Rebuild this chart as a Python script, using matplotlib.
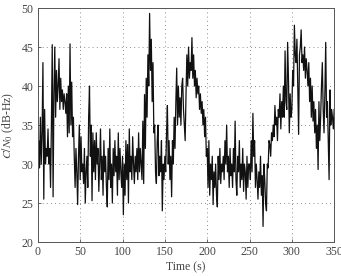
import matplotlib
matplotlib.use("Agg")
import matplotlib.pyplot as plt
import numpy as np

###### DATA (1 s steps) ######
cn0 = [
    31, 33, 29.5, 36, 30, 34, 43, 25.5, 37, 30,
    32, 31, 34.5, 30, 32, 27, 35, 45.3, 25.8, 39,
    45, 36, 42, 38, 40, 43.5, 37, 41, 38, 39.5,
    37, 39, 38, 36.5, 39, 33.5, 40, 34, 45.4, 35,
    40.5, 33.5, 36, 31, 27, 32, 29, 24.8, 31, 35,
    28, 33.5, 29, 30, 27.5, 32, 25, 29, 31, 27,
    36, 40, 31, 35, 25.3, 34, 29, 33, 28, 34,
    30, 32, 26.5, 30, 34.5, 28, 31, 26, 33, 29,
    31, 27, 24.5, 32, 28, 34.5, 27, 30, 25, 32,
    28.5, 33, 29, 31, 26, 34, 28, 32, 29, 27,
    31, 23.5, 30, 26, 33, 28, 32.5, 25, 34.5, 29,
    31, 28, 33.5, 30, 27.5, 31, 29, 32, 28, 34,
    29, 32, 30, 28, 35.5, 27.5, 38.9, 32, 41, 36,
    44, 40, 49.3, 42, 46, 38, 43, 34, 35, 29,
    27.5, 33, 35, 28.5, 31, 29, 33, 24, 30, 28,
    31, 29, 34, 37.5, 30, 33, 28, 31, 25.8, 33,
    30, 36, 32, 38, 42.3, 35, 40, 36, 38.5, 35,
    40, 41, 37, 35, 33, 39, 44, 40, 45, 41,
    43, 42, 46.2, 41, 44, 40, 42, 38.5, 41, 39,
    40, 37, 39, 36.5, 38, 35, 37, 33.5, 36, 31,
    32, 27, 33, 26, 30, 28, 31, 24.8, 29, 27,
    30, 26, 24.5, 31, 28, 32, 27.5, 30, 29, 31,
    28, 33, 30, 35, 29, 31, 27, 32, 28.5, 30,
    27, 32, 29, 35.5, 28, 26, 31, 29, 33, 27,
    30, 28, 32, 26.5, 30, 29, 25.5, 31, 27, 30,
    30, 28, 33, 29, 36.5, 31, 33, 27, 30, 28,
    25.5, 29, 27, 31, 26, 28.5, 22, 30, 28, 25,
    24, 30, 29.5, 33, 32.5, 31, 34, 33, 35, 33.5,
    37.5, 35, 36, 33, 37, 36, 39, 34.5, 38, 36,
    40, 36, 44.5, 38, 37, 45.6, 41, 34, 39, 36,
    37, 42, 40, 47.8, 44, 43, 46, 40, 33.8, 44,
    45, 47.2, 43, 44, 42, 45, 41, 43.5, 42, 40,
    43, 38, 41, 36, 40, 35.5, 38, 34, 37, 32,
    35, 29.3, 38, 33, 36, 40, 43, 37, 34, 39,
    45.6, 36, 38, 33, 28, 39.5, 35, 37, 36, 34.5, 37,
]
t = np.arange(len(cn0))

xticks = [0, 50, 100, 150, 200, 250, 300, 350]
yticks = [20, 25, 30, 35, 40, 45, 50]

###### PLOT ######
plt.rcParams['font.family'] = ['Liberation Serif', 'DejaVu Serif']
plt.rcParams['mathtext.fontset'] = 'stix'

fig = plt.figure(figsize=(3.41, 2.76), dpi=100)
ax = fig.add_axes([0.111, 0.123, 0.869, 0.848])

ax.plot(t, cn0, color='#111111', lw=0.9)

ax.set_xlim(0, 350)
ax.set_ylim(20, 50)
ax.set_xticks(xticks)
ax.set_yticks(yticks)
ax.grid(True, ls=(0, (1, 4)), color='#666666', lw=0.6)
ax.tick_params(direction='in', length=2.5, width=0.5, labelsize=8.5,
               colors='#333333', labelcolor='#444444', pad=3)
for sp in ax.spines.values():
    sp.set_linewidth(0.7)
    sp.set_color('#555555')

ax.set_xlabel('Time (s)', fontsize=8.5, color='#444444', labelpad=2)
ax.set_ylabel('$C/N_0$ (dB-Hz)', fontsize=8.5, color='#444444', labelpad=4)

fig.savefig('out.png', dpi=100)
